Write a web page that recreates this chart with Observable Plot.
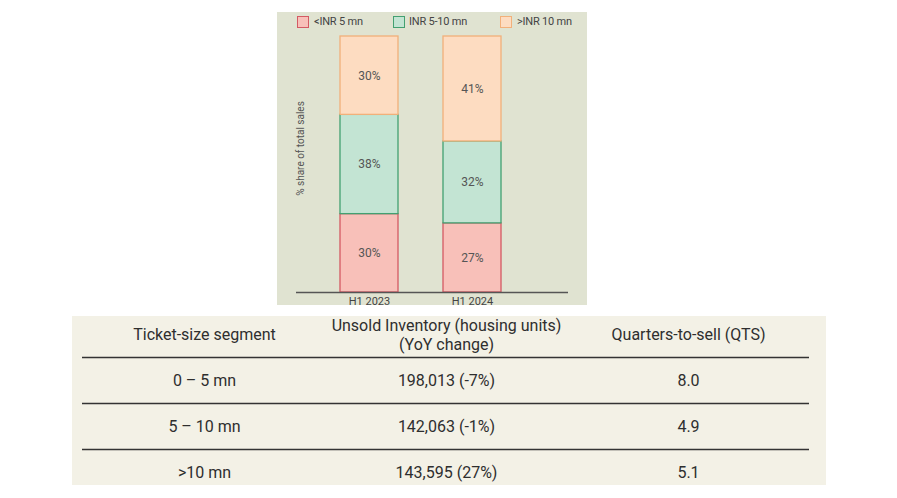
<!DOCTYPE html>
<html>
<head>
<meta charset="utf-8">
<script src="https://cdn.jsdelivr.net/npm/d3@7"></script>
<script src="https://cdn.jsdelivr.net/npm/@observablehq/plot@0.6"></script>
<style>
  body { margin: 0; background: #fff; }
  #root { position: relative; width: 897px; height: 498px; background: #fff; font-family: Roboto, "Noto Sans", sans-serif; overflow: hidden; }
  #panel { position: absolute; left: 277px; top: 12px; width: 310px; height: 293px; background: #e0e3d1; }
  #table { position: absolute; left: 72px; top: 316px; width: 754px; height: 169px; background: #f3f1e6; }
  .sw { position: absolute; top: 4px; width: 12px; height: 12px; box-sizing: border-box; border: 1.5px solid; }
  .lt { position: absolute; top: 3px; font-size: 11px; color: #444; line-height: 14px; letter-spacing: -0.2px; }
  svg { overflow: visible; }
</style>
</head>
<body>
<div id="root">
  <div id="panel"></div>
  <div id="table"></div>
</div>
<script>
// ---- chart data ----
const periods = ["H1 2023", "H1 2024"];
const segments = ["<INR 5 mn", "INR 5-10 mn", ">INR 10 mn"];
const share2023 = [30, 38, 30];
const share2024 = [27, 32, 41];
const segFill = ["#f8c0b9", "#c3e4d3", "#fddcc1"];
const segStroke = ["#d45a63", "#43a071", "#f2b07a"];
const yLabel = "% share of total sales";

// ---- table data ----
const headers = ["Ticket-size segment", "Unsold Inventory (housing units)\n(YoY change)", "Quarters-to-sell (QTS)"];
const ticketSegments = ["0 – 5 mn", "5 – 10 mn", ">10 mn"];
const unsoldInventory = ["198,013 (-7%)", "142,063 (-1%)", "143,595 (27%)"];
const quartersToSell = ["8.0", "4.9", "5.1"];

const data = [];
[share2023, share2024].forEach((vals, pi) => {
  vals.forEach((v, si) => data.push({period: periods[pi], segment: segments[si], si, value: v}));
});

const panel = document.getElementById("panel");
const legendX = [[20, 37], [116, 132], [223, 240]];
segments.forEach((s, i) => {
  const sw = document.createElement("div");
  sw.className = "sw";
  sw.style.left = legendX[i][0] + "px";
  sw.style.background = segFill[i];
  sw.style.borderColor = segStroke[i];
  panel.appendChild(sw);
  const t = document.createElement("div");
  t.className = "lt";
  t.style.left = legendX[i][1] + "px";
  t.textContent = s;
  panel.appendChild(t);
});

const chart = Plot.plot({
  width: 310,
  height: 293,
  marginTop: 24,
  marginBottom: 13,
  marginLeft: 19,
  marginRight: 19,
  style: {background: "transparent", fontFamily: "Roboto, sans-serif"},
  x: {type: "band", domain: periods, range: [62, 224], paddingInner: 0.44, paddingOuter: 0},
  y: {domain: [0, 1], axis: null},
  marks: [
    Plot.barY(data, Plot.stackY({
      x: "period", y: "value", z: "segment", offset: "normalize",
      fill: d => segFill[d.si], stroke: d => segStroke[d.si], strokeWidth: 1.3
    })),
    Plot.text(data, Plot.stackY({
      x: "period", y: "value", z: "segment", offset: "normalize",
      text: d => d.value + "%", fontSize: 12, fill: "#555"
    })),
    Plot.ruleY([0], {stroke: "#555", strokeWidth: 1.5}),
    Plot.axisX({tickSize: 0, tickPadding: 5, fontSize: 11, color: "#444", label: null}),
    Plot.text([yLabel], {frameAnchor: "left", textAnchor: "middle", rotate: -90, dx: 4, dy: -16, fontSize: 10, fill: "#555"})
  ]
});
panel.appendChild(chart);

// ---- table ----
const cells = [];
headers.forEach((h, c) => cells.push({col: c, row: 0, text: h}));
[ticketSegments, unsoldInventory, quartersToSell].forEach((col, c) => {
  col.forEach((t, r) => cells.push({col: c, row: r + 1, text: t}));
});

const table = Plot.plot({
  width: 754,
  height: 169,
  margin: 0,
  style: {background: "transparent", fontFamily: "Roboto, sans-serif"},
  x: {type: "band", domain: [0, 1, 2], range: [10, 737], padding: 0, axis: null},
  y: {type: "point", domain: [0, 1, 2, 3], range: [18, 156], padding: 0, axis: null},
  marks: [
    Plot.ruleY([1, 2, 3], {y: d => d, dy: -23, insetLeft: 10, insetRight: 17, stroke: "#333", strokeWidth: 1.5}),
    Plot.text(cells, {x: "col", y: "row", text: "text", fontSize: 16, fill: "#2e2e2e", lineHeight: 1.15})
  ]
});
document.getElementById("table").appendChild(table);
</script>
</body>
</html>
